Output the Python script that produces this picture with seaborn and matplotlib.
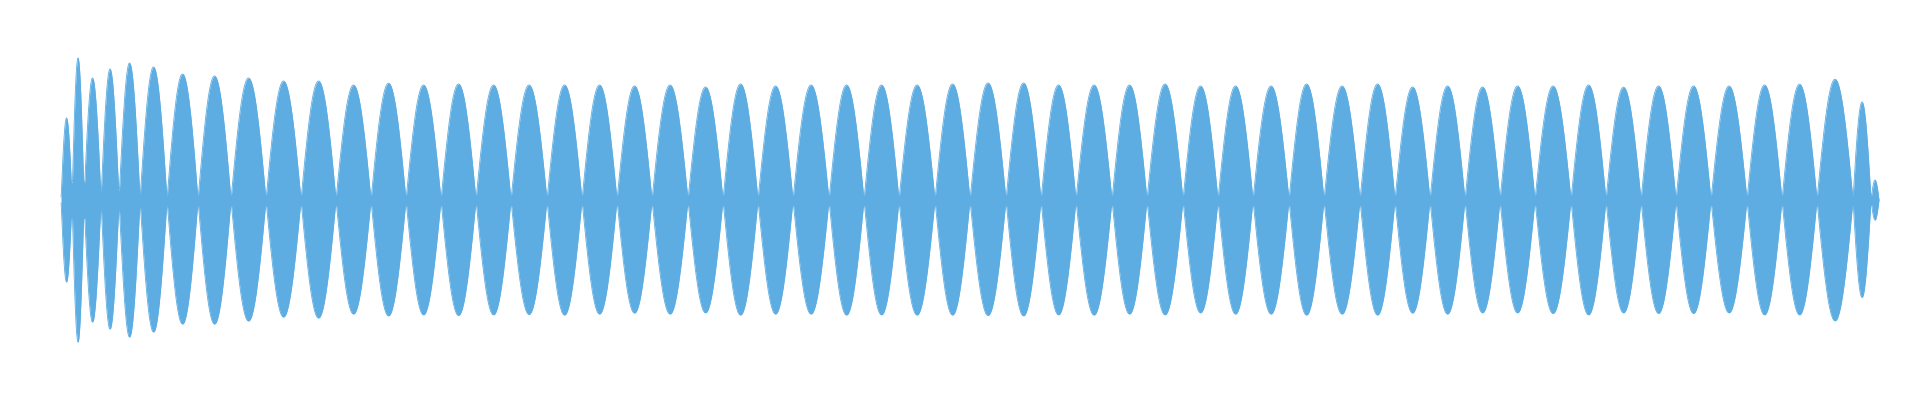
import numpy as np
import pandas as pd
import seaborn as sns
import matplotlib
matplotlib.use("Agg")
import matplotlib.pyplot as plt

# waveform envelope: one lobe per beat
# node times (s) bound the lobes, amplitudes are relative to full scale
node_t = [0.00, 0.11, 0.23, 0.40, 0.58, 0.79, 1.06, 1.37, 1.70, 2.05, 2.40, 2.75, 3.10,
          3.45, 3.80, 4.15, 4.50, 4.86, 5.21, 5.56, 5.91, 6.27, 6.62, 6.97,
          7.32, 7.68, 8.03, 8.38, 8.74, 9.09, 9.45, 9.80, 10.15, 10.51, 10.86,
          11.22, 11.57, 11.92, 12.28, 12.63, 12.99, 13.34, 13.69, 14.04, 14.39, 14.74,
          15.10, 15.45, 15.80, 16.15, 16.50, 16.86, 17.21, 17.56, 17.92, 18.10, 18.18]

peak_top = [0.41, 0.71, 0.61, 0.655, 0.685, 0.665, 0.63, 0.62, 0.61, 0.595, 0.595, 0.575,
            0.584, 0.575, 0.58, 0.575, 0.575, 0.575, 0.575, 0.57, 0.575, 0.565, 0.58,
            0.57, 0.575, 0.575, 0.575, 0.575, 0.58, 0.585, 0.585, 0.575, 0.575, 0.575,
            0.58, 0.57, 0.57, 0.57, 0.58, 0.57, 0.58, 0.565, 0.57, 0.565, 0.57,
            0.57, 0.575, 0.564, 0.57, 0.57, 0.57, 0.575, 0.579, 0.604, 0.49, 0.10]

peak_bottom = [0.41, 0.71, 0.61, 0.645, 0.685, 0.66, 0.62, 0.62, 0.605, 0.585, 0.59, 0.57,
               0.579, 0.574, 0.577, 0.574, 0.572, 0.575, 0.57, 0.565, 0.57, 0.564, 0.575,
               0.57, 0.57, 0.575, 0.574, 0.575, 0.575, 0.577, 0.579, 0.574, 0.575, 0.57,
               0.574, 0.564, 0.57, 0.57, 0.575, 0.57, 0.575, 0.565, 0.57, 0.564, 0.564,
               0.567, 0.574, 0.564, 0.567, 0.567, 0.564, 0.574, 0.574, 0.604, 0.487, 0.10]

# residual level at the nodes between lobes
node_floor = [0.015, 0.09, 0.09, 0.05, 0.05, 0.035] + [0.025] * 50 + [0.0]

WAVE_COLOR = "#5DADE2"


def build_envelope(nodes, tops, bottoms, floors, pts=60):
    rows = []
    for i in range(len(tops)):
        t = np.linspace(nodes[i], nodes[i + 1], pts)
        u = np.linspace(0, 1, pts)
        shape = np.sin(np.pi * u)
        fl = floors[i] + (floors[i + 1] - floors[i]) * u
        rows.append(pd.DataFrame({
            "t": t,
            "upper": np.maximum(tops[i] * shape, fl),
            "lower": -np.maximum(bottoms[i] * shape, fl),
        }))
    return pd.concat(rows, ignore_index=True)


env = build_envelope(node_t, peak_top, peak_bottom, node_floor)

sns.set_theme(style="white")
fig = plt.figure(figsize=(19.2, 4), dpi=100)
ax = fig.add_axes([0, 0, 1, 1])

ax.fill_between(env["t"], env["lower"], env["upper"], color=WAVE_COLOR, linewidth=0)
sns.lineplot(data=env, x="t", y="upper", ax=ax, color=WAVE_COLOR, linewidth=0.6, sort=False)
sns.lineplot(data=env, x="t", y="lower", ax=ax, color=WAVE_COLOR, linewidth=0.6, sort=False)

ax.set_xlim(-0.61, 18.59)
ax.set_ylim(-1, 1)
ax.axis("off")

fig.savefig("out.png", dpi=100, facecolor="white")
plt.close(fig)
